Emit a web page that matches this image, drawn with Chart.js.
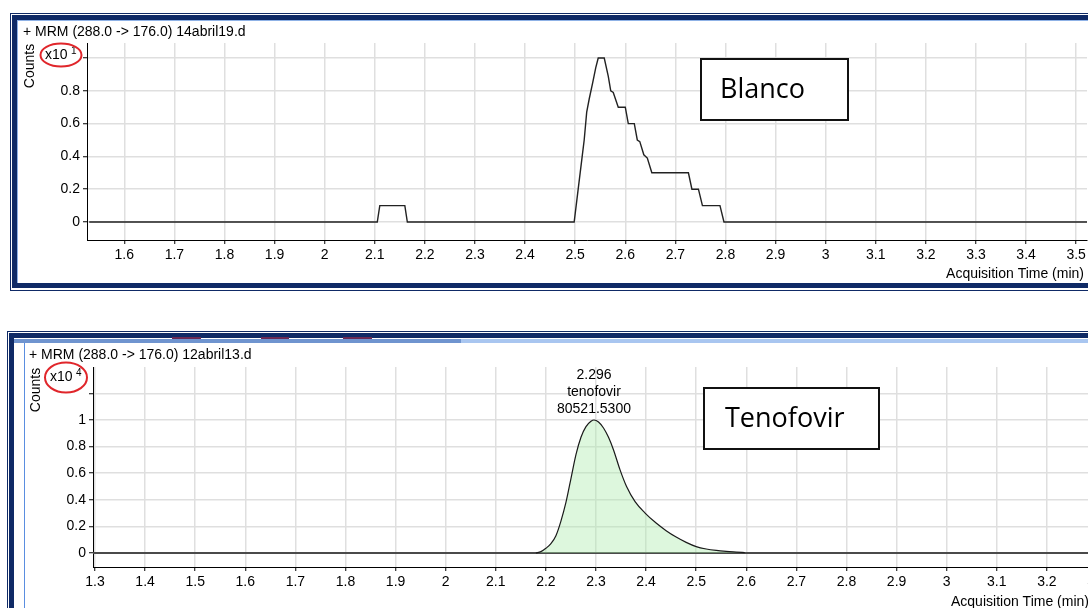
<!DOCTYPE html>
<html>
<head>
<meta charset="utf-8">
<title>MRM (288.0 -> 176.0)</title>
<script src="https://cdn.jsdelivr.net/npm/chart.js@4.4.1/dist/chart.umd.min.js"></script>
<style>
  html, body { margin: 0; padding: 0; background: #fff; overflow: hidden; }
  body { width: 1088px; height: 608px; position: relative; }
  canvas { position: absolute; left: 0; }
  #blancoChart { top: 0; }
  #tenoChart { top: 300px; }
</style>
</head>
<body>
<canvas id="blancoChart" width="1110" height="300"></canvas>
<canvas id="tenoChart" width="1110" height="308"></canvas>
<script>
// blank injection, 14abril19.d  (counts x10^1)
const blancoTime = [1.53, 2.105, 2.11, 2.16, 2.165, 2.498, 2.506, 2.514, 2.518, 2.523, 2.528, 2.535, 2.541, 2.546, 2.558,
  2.566, 2.571, 2.576, 2.586, 2.600, 2.606, 2.618, 2.624, 2.629, 2.637, 2.644, 2.653, 2.726, 2.733, 2.746,
  2.754, 2.789, 2.797, 3.53];
const blancoCounts = [0, 0, 0.1, 0.1, 0, 0, 0.2, 0.4, 0.5, 0.67, 0.75, 0.85, 0.94, 1.0, 1.0,
  0.89, 0.8, 0.79, 0.7, 0.7, 0.6, 0.6, 0.5, 0.49, 0.41, 0.39, 0.3, 0.3, 0.2, 0.2,
  0.1, 0.1, 0, 0];

// tenofovir standard, 12abril13.d  (counts x10^4)
const baseTime = [1.29, 3.31];
const baseCounts = [0, 0];
const tenoTime = [2.180, 2.190, 2.200, 2.210, 2.220, 2.230, 2.240, 2.250, 2.260, 2.270, 2.280, 2.290, 2.296,
  2.305, 2.315, 2.325, 2.335, 2.348, 2.361, 2.378, 2.398, 2.420, 2.440, 2.460,
  2.480, 2.500, 2.520, 2.540, 2.560, 2.580, 2.597];
const tenoCounts = [0, 0.01, 0.035, 0.07, 0.13, 0.24, 0.38, 0.56, 0.74, 0.87, 0.95, 0.99, 1.0,
  0.985, 0.94, 0.87, 0.775, 0.625, 0.50, 0.386, 0.30, 0.225, 0.168, 0.12,
  0.08, 0.048, 0.03, 0.019, 0.012, 0.007, 0.003];
const tenoPeak = { rt: 2.296, name: 'tenofovir', area: 80521.53 };

// axis ticks (top label of each count axis sits under the x10^n tag, so it's left blank)
const blancoTimeTicks = [1.6, 1.7, 1.8, 1.9, 2.0, 2.1, 2.2, 2.3, 2.4, 2.5, 2.6, 2.7, 2.8, 2.9, 3.0, 3.1, 3.2, 3.3, 3.4, 3.5];
const tenoTimeTicks = [1.3, 1.4, 1.5, 1.6, 1.7, 1.8, 1.9, 2.0, 2.1, 2.2, 2.3, 2.4, 2.5, 2.6, 2.7, 2.8, 2.9, 3.0, 3.1, 3.2, 3.3];
const blancoCountTicks = [0, 0.2, 0.4, 0.6, 0.8, 1];
const blancoCountLabels = ['0', '0.2', '0.4', '0.6', '0.8', ''];
const tenoCountTicks = [0, 0.2, 0.4, 0.6, 0.8, 1, 1.2];
const tenoCountLabels = ['0', '0.2', '0.4', '0.6', '0.8', '1', ''];

const NAVY = '#0f2a66';
const UI_FONT = '"Liberation Sans", Arial, sans-serif';

Chart.defaults.font.family = UI_FONT;
Chart.defaults.font.size = 14;
Chart.defaults.color = '#000';

function toXY(xs, ys) {
  return xs.map((x, i) => ({ x: x, y: ys[i] }));
}

// frame, header, axis titles and the sample name box around each trace
const panelDeco = {
  id: 'panelDeco',
  beforeDraw(chart, args, o) {
    const ctx = chart.ctx;
    const f = o.frame;
    ctx.save();
    ctx.fillStyle = '#fff';
    ctx.fillRect(0, 0, chart.width, chart.height);
    ctx.strokeStyle = NAVY;
    ctx.lineWidth = 1;
    ctx.strokeRect(f.x + 0.5, f.y + 0.5, 1200, f.h);
    ctx.fillStyle = NAVY;
    ctx.fillRect(f.x + 2, f.y + 2, 1200, 5);      // top band
    ctx.fillRect(f.x + 2, f.y + 2, 5, f.h - 4);   // left band
    if (f.closed) ctx.fillRect(f.x + 2, f.y + f.h - 7, 1200, 5);
    if (f.blueBar) {
      // title bar strip of the lower window
      ctx.fillStyle = '#6f94cf';
      ctx.fillRect(f.x + 7, f.y + 8, 454, 4);
      ctx.fillStyle = '#a9c6f0';
      ctx.fillRect(f.x + 454, f.y + 8, 1200, 4);
      ctx.fillStyle = '#6a2a55';
      [[172, 29], [261, 28], [343, 29]].forEach(m => ctx.fillRect(m[0], f.y + 6, m[1], 2));
      ctx.fillStyle = '#5a8ee0';
      ctx.fillRect(24, f.y + 12, 1, 400);
    } else {
      ctx.fillStyle = '#8fb2e6';
      ctx.fillRect(f.x + 7, f.y + 7, 1200, 1);
      ctx.fillRect(f.x + 7, f.y + 7, 1, f.h - 14);
    }
    ctx.restore();
  },
  afterDraw(chart, args, o) {
    const ctx = chart.ctx;
    ctx.save();
    ctx.fillStyle = '#000';
    ctx.font = '14px ' + UI_FONT;
    ctx.textBaseline = 'middle';
    ctx.textAlign = 'left';
    ctx.fillText(o.header, o.headerPos[0], o.headerPos[1]);

    ctx.save();
    ctx.translate(o.countsPos[0], o.countsPos[1]);
    ctx.rotate(-Math.PI / 2);
    ctx.textAlign = 'center';
    ctx.fillText('Counts', 0, 0);
    ctx.restore();

    // scale factor x10^n with the red ring around it
    ctx.fillText('x10', o.expPos[0], o.expPos[1]);
    ctx.font = '10px ' + UI_FONT;
    ctx.fillText(String(o.exponent), o.expPos[0] + 26, o.expPos[1] - 4);
    ctx.strokeStyle = '#e0262b';
    ctx.lineWidth = 2;
    ctx.beginPath();
    ctx.ellipse(o.ring[0], o.ring[1], o.ring[2], o.ring[3], 0, 0, Math.PI * 2);
    ctx.stroke();

    ctx.font = '14px ' + UI_FONT;
    ctx.textAlign = o.axisTitle.align;
    ctx.fillText('Acquisition Time (min)', o.axisTitle.x, o.axisTitle.y);

    if (o.peak) {
      const px = chart.scales.x.getPixelForValue(o.peak.rt);
      const py = chart.scales.y.getPixelForValue(o.peak.height);
      ctx.textAlign = 'center';
      ctx.fillText(o.peak.rt.toFixed(3), px, py - 45);
      ctx.fillText(o.peak.name, px, py - 28);
      ctx.fillText(o.peak.area.toFixed(4), px, py - 11);
    }

    const b = o.box;
    ctx.fillStyle = '#fff';
    ctx.fillRect(b.x, b.y, b.w, b.h);
    ctx.strokeStyle = '#111';
    ctx.lineWidth = 2;
    ctx.strokeRect(b.x, b.y, b.w, b.h);
    ctx.fillStyle = '#000';
    ctx.font = '27px "Open Sans", sans-serif';
    ctx.textAlign = 'left';
    ctx.fillText(b.text, b.x + b.pad, b.y + b.h / 2 + 1);
    ctx.restore();
  }
};

const gridStyle = { color: '#dfdfdf', lineWidth: 1.5, tickColor: '#000', tickWidth: 1, tickLength: 4 };

function timeAxis(min, max, ticks, height) {
  return {
    type: 'linear',
    min: min,
    max: max,
    afterBuildTicks: (s) => { s.ticks = ticks.map(v => ({ value: v })); },
    afterFit: (s) => { s.height = height; },
    ticks: {
      autoSkip: false,
      maxRotation: 0,
      padding: 3,
      callback: (v) => String(Math.round(v * 10) / 10),
    },
    grid: gridStyle,
    border: { color: '#000', width: 1 },
  };
}

function countAxis(min, max, ticks, labels, width) {
  return {
    type: 'linear',
    min: min,
    max: max,
    afterBuildTicks: (s) => { s.ticks = ticks.map(v => ({ value: v })); },
    afterFit: (s) => { s.width = width; },
    ticks: {
      padding: 3,
      callback: (v, i) => labels[i],
    },
    grid: gridStyle,
    border: { color: '#000', width: 1 },
  };
}

new Chart('blancoChart', {
  type: 'line',
  data: {
    datasets: [{
      data: toXY(blancoTime, blancoCounts),
      borderColor: '#222',
      borderWidth: 1.4,
      pointRadius: 0,
      tension: 0,
    }]
  },
  options: {
    responsive: false,
    animation: false,
    layout: { padding: { left: 0, top: 43, right: 23, bottom: 0 } },
    scales: {
      x: timeAxis(1.5256, 3.5216, blancoTimeTicks, 60),
      y: countAxis(-0.1098, 1.0915, blancoCountTicks, blancoCountLabels, 87),
    },
    plugins: {
      legend: { display: false },
      tooltip: { enabled: false },
      panelDeco: {
        frame: { x: 10, y: 13, h: 277, closed: true },
        header: '+ MRM (288.0 -> 176.0) 14abril19.d',
        headerPos: [23, 32],
        countsPos: [30, 66],
        expPos: [45, 55],
        exponent: 1,
        ring: [61, 55, 20.5, 11.5],
        axisTitle: { x: 1084, y: 274, align: 'right' },
        box: { x: 701, y: 59, w: 147, h: 61, pad: 19, text: 'Blanco' },
      }
    }
  },
  plugins: [panelDeco]
});

new Chart('tenoChart', {
  type: 'line',
  data: {
    datasets: [{
      data: toXY(tenoTime, tenoCounts),
      borderColor: '#1a1a1a',
      borderWidth: 1.2,
      backgroundColor: 'rgba(170, 235, 170, 0.4)',
      fill: 'origin',
      pointRadius: 0,
      cubicInterpolationMode: 'monotone',
    }, {
      data: toXY(baseTime, baseCounts),
      borderColor: '#4a4a4a',
      borderWidth: 2,
      pointRadius: 0,
    }]
  },
  options: {
    responsive: false,
    animation: false,
    layout: { padding: { left: 0, top: 67, right: 10, bottom: 0 } },
    scales: {
      x: timeAxis(1.296, 3.306, tenoTimeTicks, 41),
      y: countAxis(-0.1053, 1.3985, tenoCountTicks, tenoCountLabels, 93),
    },
    plugins: {
      legend: { display: false },
      tooltip: { enabled: false },
      panelDeco: {
        frame: { x: 7, y: 31, h: 400, closed: false, blueBar: true },
        header: '+ MRM (288.0 -> 176.0) 12abril13.d',
        headerPos: [29, 55],
        countsPos: [36, 90],
        expPos: [50, 77],
        exponent: 4,
        ring: [66, 77.5, 21, 15],
        axisTitle: { x: 951, y: 302, align: 'left' },
        peak: { rt: tenoPeak.rt, name: tenoPeak.name, area: tenoPeak.area, height: Math.max(...tenoCounts) },
        box: { x: 704, y: 88, w: 175, h: 61, pad: 21, text: 'Tenofovir' },
      }
    }
  },
  plugins: [panelDeco]
});
</script>
</body>
</html>
